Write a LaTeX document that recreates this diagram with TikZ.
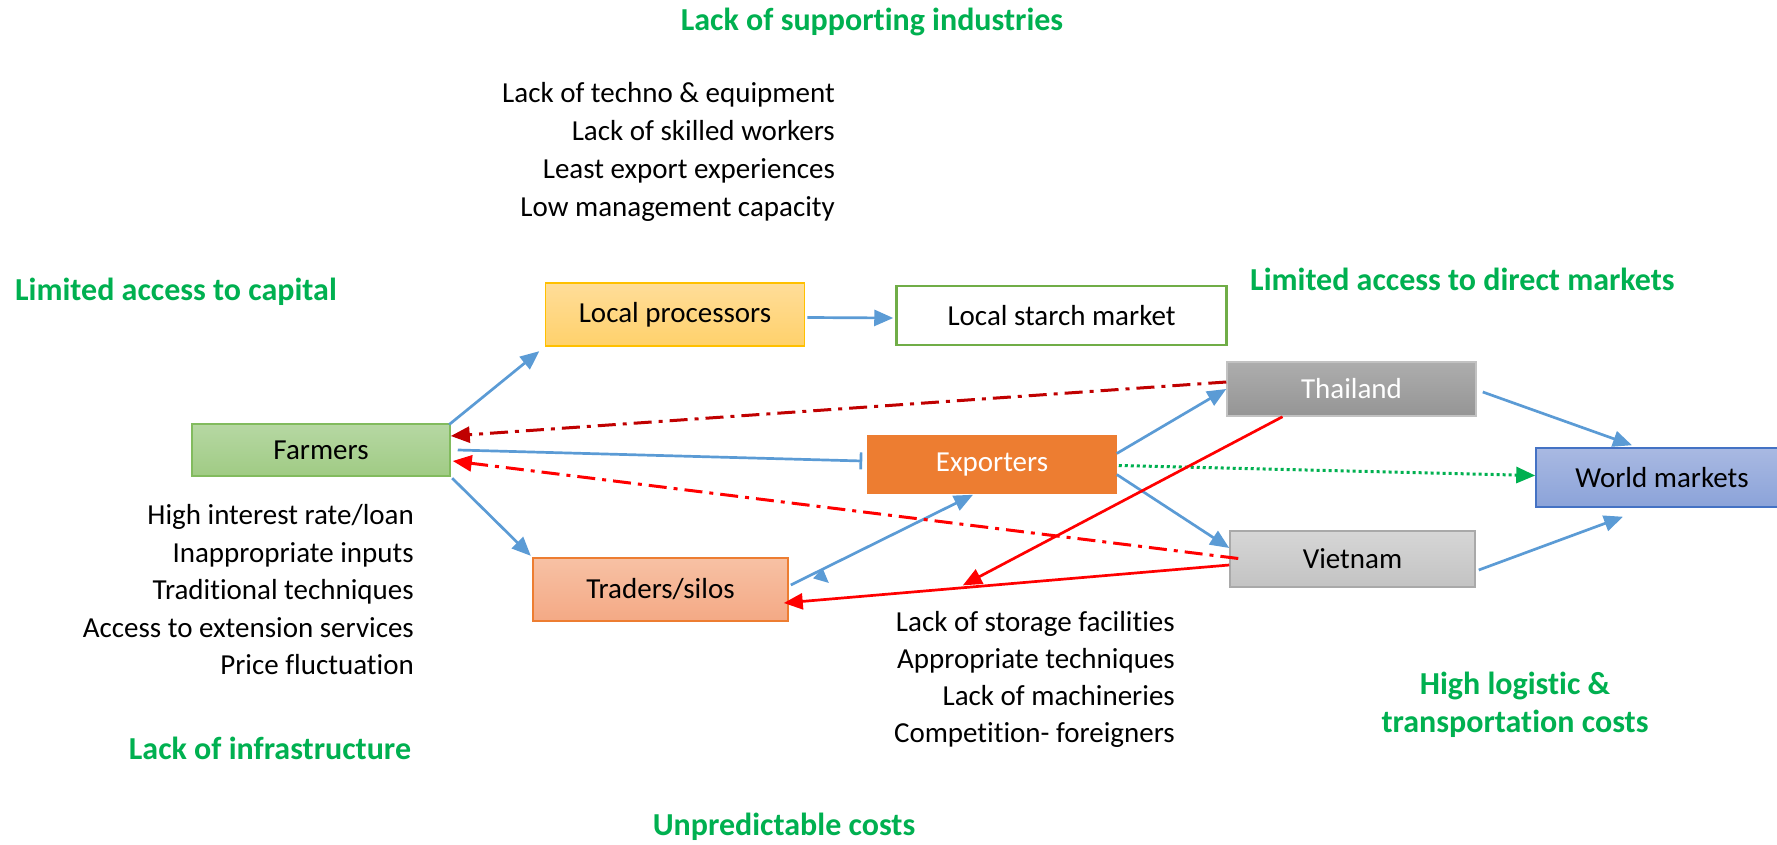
\documentclass[tikz,border=0pt]{standalone}
\usepackage{fontspec}
\setmainfont[Ligatures=NoCommon]{Carlito}
\usetikzlibrary{arrows.meta,decorations.markings}

\definecolor{flowblue}{HTML}{5B9BD5}
\definecolor{headgreen}{HTML}{00B050}
\definecolor{darkred}{HTML}{C00000}
\definecolor{brightred}{HTML}{FF0000}
\definecolor{lpTop}{HTML}{FFDD99}
\definecolor{lpBot}{HTML}{FFD16B}
\definecolor{lpLine}{HTML}{FFC000}
\definecolor{lsmLine}{HTML}{70AD47}
\definecolor{farmTop}{HTML}{B6D8A3}
\definecolor{farmBot}{HTML}{A0CB84}
\definecolor{farmLine}{HTML}{82BB5E}
\definecolor{expFill}{HTML}{ED7D31}
\definecolor{trTop}{HTML}{F7C1A4}
\definecolor{trBot}{HTML}{F4A985}
\definecolor{trLine}{HTML}{ED7D31}
\definecolor{thTop}{HTML}{ADADAD}
\definecolor{thBot}{HTML}{959595}
\definecolor{thLine}{HTML}{C2C2C2}
\definecolor{vnTop}{HTML}{D6D6D6}
\definecolor{vnBot}{HTML}{C3C3C3}
\definecolor{vnLine}{HTML}{A9A9A9}
\definecolor{wmTop}{HTML}{A9B9E2}
\definecolor{wmBot}{HTML}{8BA3D9}
\definecolor{wmLine}{HTML}{4472C4}

\begin{document}
\begin{tikzpicture}[x=1pt,y=-1pt,
  box/.style={draw, line width=1.5pt, inner sep=0pt, anchor=center,
    font=\fontsize{29}{35}\selectfont},
  body/.style={font=\fontsize{29}{35}\selectfont, inner sep=0pt},
  head/.style={font=\fontsize{32}{38}\selectfont\bfseries, text=headgreen, inner sep=0pt},
  tip/.style={-{Triangle[length=19pt,width=16pt]}},
  flow/.style={draw=flowblue, line width=2.7pt, tip},
  block/.style={draw=flowblue, line width=2.7pt, -{Bar[width=17pt,line width=2.7pt]}},
  backflow/.style={line width=3pt, tip,
    dash pattern=on 18pt off 7pt on 4pt off 7pt},
  payflow/.style={draw=brightred, line width=2.7pt, tip},
  direct/.style={draw=headgreen, line width=3pt, tip,
    dash pattern=on 3pt off 3pt}
]
\useasboundingbox (0,0) rectangle (1777,845);

% ---- chain members ----
\node[box, minimum width=259pt, minimum height=63pt,
  top color=lpTop, bottom color=lpBot, draw=lpLine] (lp) at (675,314.5) {Local processors};
\node[box, fill=white, draw=lsmLine, line width=2.5pt,
  minimum width=330pt, minimum height=59pt] (lsm) at (1061.5,315.5) {Local starch market};
\node[box, minimum width=249pt, minimum height=54pt,
  top color=thTop, bottom color=thBot, draw=thLine, text=white] (th) at (1351.5,389) {Thailand};
\node[box, minimum width=258pt, minimum height=52pt,
  top color=farmTop, bottom color=farmBot, draw=farmLine] (farm) at (321,450) {Farmers};
\node[box, minimum width=248pt, minimum height=57pt,
  fill=expFill, draw=expFill, text=white] (exp) at (992,464.5) {Exporters};
\node[box, minimum width=252pt, minimum height=59pt,
  top color=wmTop, bottom color=wmBot, draw=wmLine] (wm) at (1662,477.5) {World markets};
\node[box, minimum width=245pt, minimum height=56pt,
  top color=vnTop, bottom color=vnBot, draw=vnLine] (vn) at (1352.5,559) {Vietnam};
\node[box, minimum width=255pt, minimum height=63pt,
  top color=trTop, bottom color=trBot, draw=trLine] (tr) at (660.5,589.5) {Traders/silos};

% ---- constraint headings ----
\node[head, anchor=base] (hSupport) at (872,31) {Lack of supporting industries};
\node[head, anchor=base west] (hCapital) at (15,300) {Limited access to capital};
\node[head, anchor=base west] (hMarkets) at (1250,290) {Limited access to direct markets};
\node[head, anchor=base] (hInfra) at (270,759) {Lack of infrastructure};
\node[head, anchor=base] (hLog1) at (1515,694) {High logistic \&};
\node[head, anchor=base] (hLog2) at (1515,732) {transportation costs};
\node[head, anchor=base] (hCosts) at (784,835) {Unpredictable costs};

% ---- processor constraints ----
\node[body, anchor=base east] (p1) at (835,103) {Lack of techno \& equipment};
\node[body, anchor=base east] (p2) at (835,141) {Lack of skilled workers};
\node[body, anchor=base east] (p3) at (835,179) {Least export experiences};
\node[body, anchor=base east] (p4) at (835,216) {Low management capacity};

% ---- farmer constraints ----
\node[body, anchor=base east] (f1) at (414,524) {High interest rate/loan};
\node[body, anchor=base east] (f2) at (414,562) {Inappropriate inputs};
\node[body, anchor=base east] (f3) at (414,599) {Traditional techniques};
\node[body, anchor=base east] (f4) at (414,637) {Access to extension services};
\node[body, anchor=base east] (f5) at (414,674) {Price fluctuation};

% ---- trader constraints ----
\node[body, anchor=base east] (t1) at (1175,631) {Lack of storage facilities};
\node[body, anchor=base east] (t2) at (1175,668) {Appropriate techniques};
\node[body, anchor=base east] (t3) at (1175,705) {Lack of machineries};
\node[body, anchor=base east] (t4) at (1175,742) {Competition- foreigners};

% ---- product flows ----
\draw[flow, shorten <=-2pt, shorten >=7pt] (farm.north east) -- (lp.south west);
\draw[flow, shorten <=2pt, shorten >=2pt] (farm.south east) -- (tr.north west);
\draw[flow] ([xshift=2pt,yshift=-3pt]lp.east) -- ([xshift=-2pt,yshift=-2.5pt]lsm.west);
\draw[block] ([xshift=7pt]farm.east) -- ([xshift=-5pt,yshift=3.5pt]exp.west);
\draw[flow, postaction={decorate, decoration={markings,
    mark=at position 0 with {\fill[flowblue] (36pt,1pt) -- (23pt,-4pt) -- (35pt,-15pt) -- cycle;}}}]
  ([xshift=2pt,yshift=4.5pt]tr.east) -- ([xshift=-19pt,yshift=-1pt]exp.south);
\draw[flow] ([yshift=11pt]exp.east) -- (th.west);
\draw[flow] ([yshift=-10pt]exp.east) -- ([yshift=11pt]vn.west);
\draw[direct] ([xshift=2pt,yshift=-1pt]exp.east) -- ([yshift=2pt]wm.west);
\draw[flow] ([xshift=6pt,yshift=-3pt]th.east) -- ([xshift=-30pt,yshift=2pt]wm.north);
\draw[flow] ([xshift=3pt,yshift=-11pt]vn.east) -- ([xshift=-39pt,yshift=-9pt]wm.south);

% ---- feedback and payment flows ----
\draw[backflow, draw=darkred] ([yshift=7pt]th.west) -- ([yshift=14pt]farm.east);
\draw[backflow, draw=brightred] ([xshift=9pt,yshift=0.5pt]vn.west) -- ([xshift=2pt,yshift=-11pt]farm.east);
\draw[payflow] ([yshift=-6pt]vn.west) -- ([xshift=-5pt,yshift=-13.5pt]tr.east)
  coordinate[pos=0.61] (join);
\draw[payflow, shorten >=6pt] ([xshift=-69pt]th.south) -- (join);
\end{tikzpicture}
\end{document}
